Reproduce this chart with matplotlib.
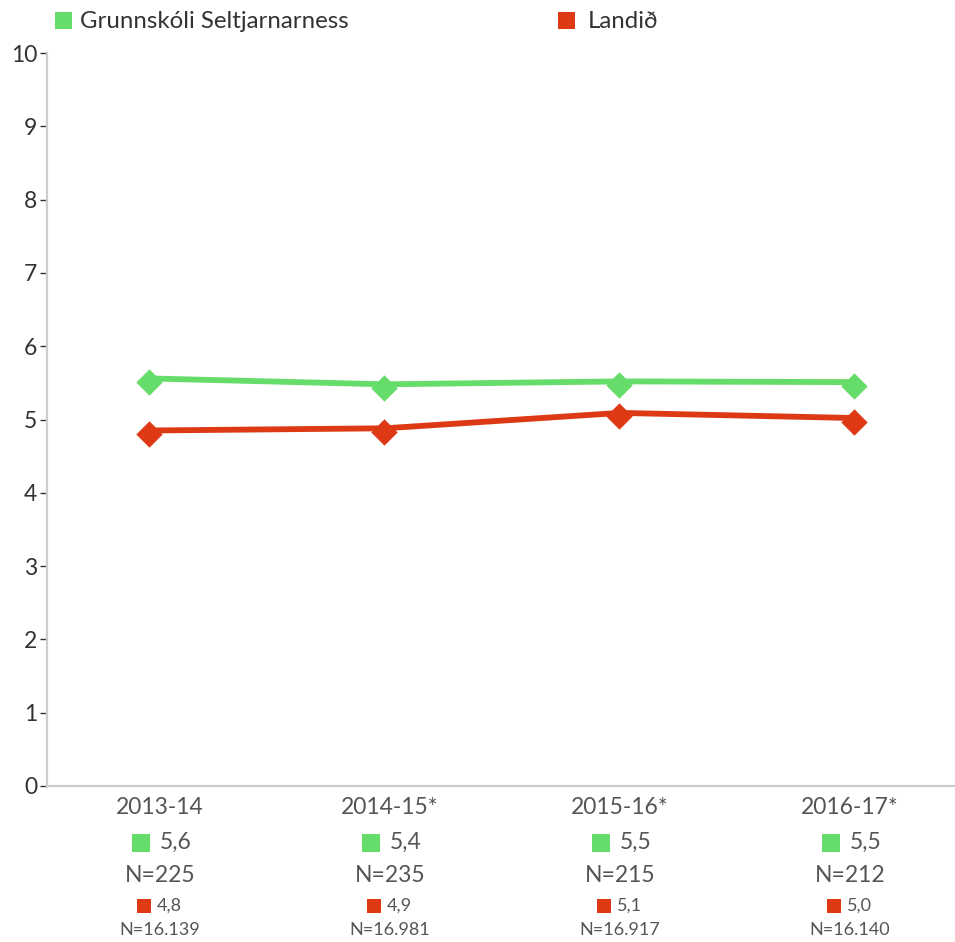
import matplotlib
matplotlib.use("Agg")
import matplotlib.pyplot as plt
from matplotlib.path import Path
from matplotlib.transforms import blended_transform_factory, ScaledTranslation

plt.rcParams['font.family'] = ['Lato', 'DejaVu Sans']

categories = ["2013-14", "2014-15*", "2015-16*", "2016-17*"]
school_name = "Grunnskóli Seltjarnarness"
country_name = "Landið"
school_values = [5.56, 5.48, 5.52, 5.51]
country_values = [4.85, 4.88, 5.09, 5.02]
school_labels = ["5,6", "5,4", "5,5", "5,5"]
country_labels = ["4,8", "4,9", "5,1", "5,0"]
school_n = ["N=225", "N=235", "N=215", "N=212"]
country_n = ["N=16.139", "N=16.981", "N=16.917", "N=16.140"]
yticks = list(range(0, 11))

GREEN = "#66dd6a"
RED = "#dc3914"
TEXT = "#555555"
W, H = 955, 942

fig = plt.figure(figsize=(W / 100, H / 100), dpi=100)
ax = fig.add_axes([47 / W, 1 - 786 / H, 1 - 47 / W, (786 - 53) / H])

diamond = Path([(0, 1), (1, 0), (0, -1), (-1, 0), (0, 1)],
               [Path.MOVETO, Path.LINETO, Path.LINETO, Path.LINETO, Path.CLOSEPOLY])

x = list(range(len(categories)))
marker_tr = ax.transData + ScaledTranslation(-1 / 100, -3.5 / 100, fig.dpi_scale_trans)
for vals, col in [(school_values, GREEN), (country_values, RED)]:
    ax.plot(x, vals, color=col, lw=4.2, solid_joinstyle='round', solid_capstyle='butt')
    ax.plot(x, vals, linestyle='none', marker=diamond, ms=19, color=col,
            markeredgewidth=0, transform=marker_tr)

ax.set_xlim(-0.438, 3.426)
ax.set_ylim(0, 10)
ax.set_yticks(yticks)
ax.set_yticklabels([str(v) for v in yticks], fontsize=16.5, color="#333333")
ax.tick_params(axis='y', length=5, width=1, color="#333333", pad=2)
ax.set_xticks([])
for s in ["top", "right"]:
    ax.spines[s].set_visible(False)
for s in ["left", "bottom"]:
    ax.spines[s].set_color("#cccccc")
    ax.spines[s].set_linewidth(1.6)

tr = blended_transform_factory(ax.transData, fig.transFigure)
px = 1 / 235.0
# label columns are spaced slightly tighter than the point columns
label_x = [10 * px + i * (230 / 235) for i in x]
for i in x:
    lx = label_x[i]
    ax.text(lx, 1 - 807 / H, categories[i], transform=tr, ha='center', va='center',
            fontsize=16.5, color=TEXT)
    ax.plot([lx - 19 * px], [1 - 842.5 / H], transform=tr, marker='s', ms=12.3,
            color=GREEN, mew=0, clip_on=False)
    ax.text(lx, 1 - 842 / H, school_labels[i], transform=tr,
            ha='left', va='center', fontsize=16.5, color=TEXT)
    ax.text(lx, 1 - 876 / H, school_n[i], transform=tr, ha='center', va='center',
            fontsize=16.5, color=TEXT)
    ax.plot([lx - 16 * px], [1 - 906 / H], transform=tr, marker='s', ms=10,
            color=RED, mew=0, clip_on=False)
    ax.text(lx - 3 * px, 1 - 906 / H, country_labels[i], transform=tr,
            ha='left', va='center', fontsize=13, color=TEXT)
    ax.text(lx, 1 - 930 / H, country_n[i], transform=tr, ha='center', va='center',
            fontsize=13, color=TEXT)

# legend
fig.patches.append(plt.Rectangle((55 / W, 1 - 29 / H), 17 / W, 17 / H,
                                 transform=fig.transFigure, color=GREEN, lw=0))
fig.text(80 / W, 1 - 21 / H, school_name, ha='left', va='center', fontsize=17.3, color="#333333")
fig.patches.append(plt.Rectangle((558 / W, 1 - 29 / H), 17 / W, 17 / H,
                                 transform=fig.transFigure, color=RED, lw=0))
fig.text(588 / W, 1 - 21 / H, country_name, ha='left', va='center', fontsize=17.3, color="#333333")

fig.savefig("out.png", dpi=100)
